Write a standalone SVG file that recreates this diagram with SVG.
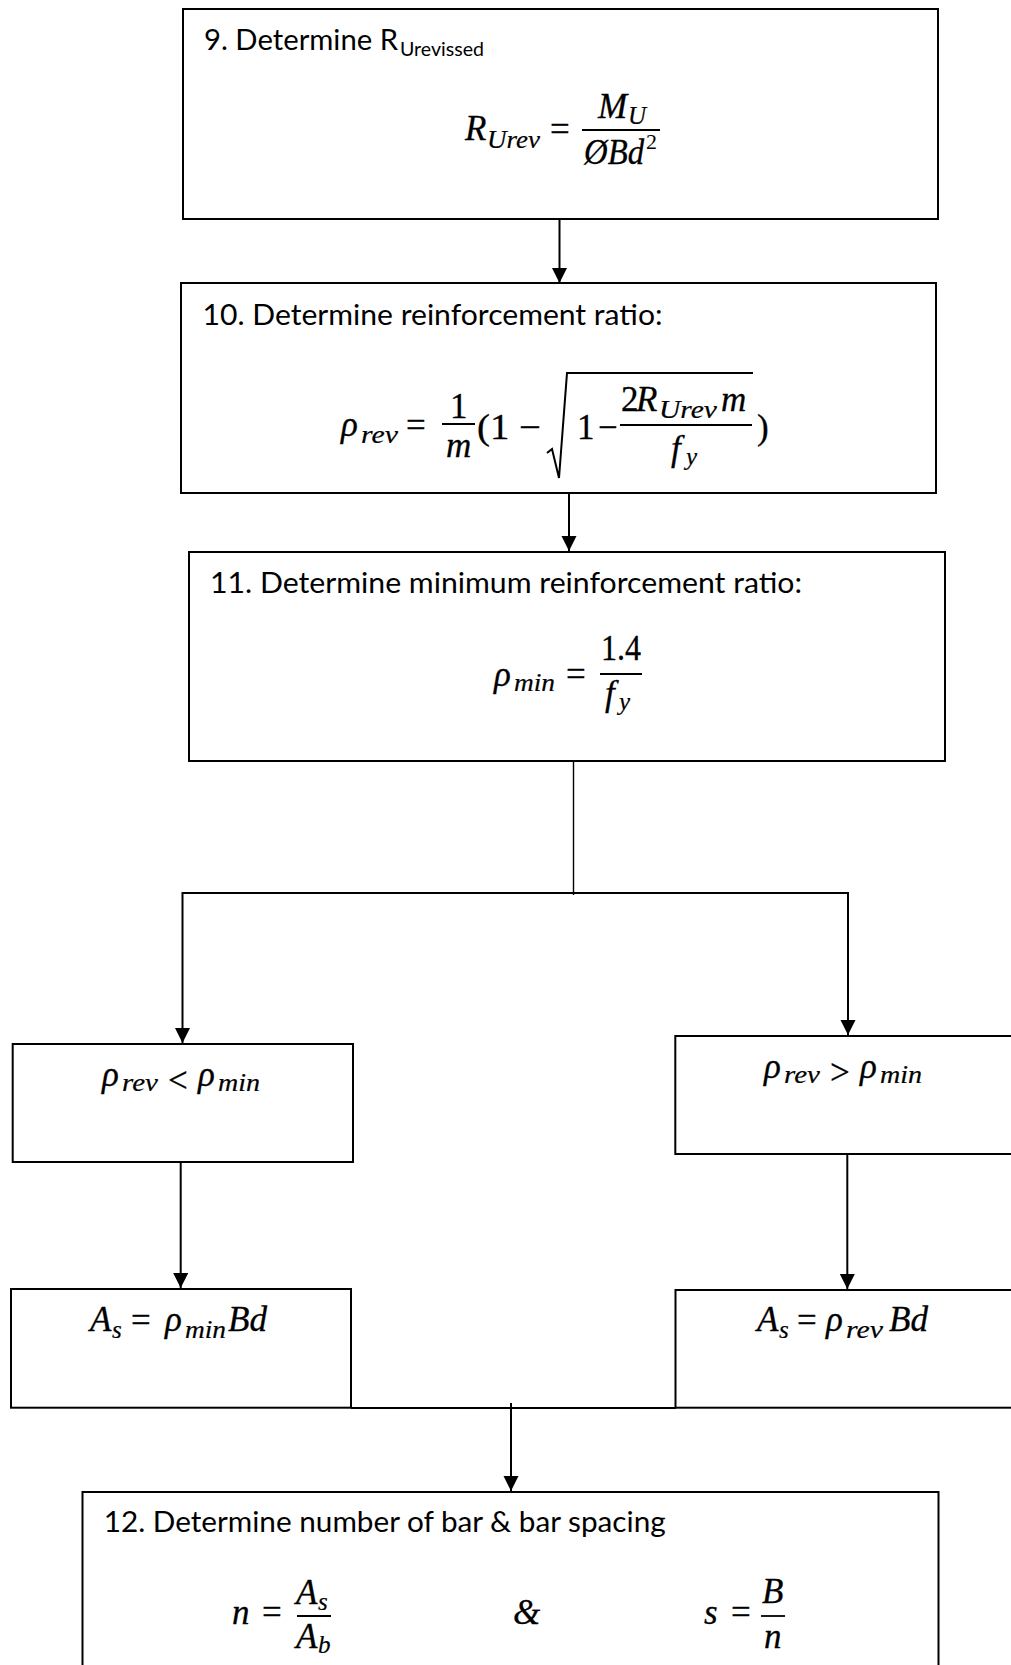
<svg xmlns="http://www.w3.org/2000/svg" width="1011" height="1665" viewBox="0 0 1011 1665">
<style>
  .box { fill: #ffffff; stroke: #000000; stroke-width: 2; }
  .h { font-family: Lato, "Liberation Sans", sans-serif; font-size: 29px; fill: #000; }
  .hs { font-family: Lato, "Liberation Sans", sans-serif; font-size: 19px; fill: #000; }
  .m { font-family: "Liberation Serif", "DejaVu Serif", serif; font-style: italic; font-size: 35px; fill: #000; stroke: #000; stroke-width: 0.3; }
  .ms { font-family: "Liberation Serif", "DejaVu Serif", serif; font-style: italic; font-size: 25px; fill: #000; stroke: #000; stroke-width: 0.2; }
  .mu { font-family: "Liberation Serif", "DejaVu Serif", serif; font-size: 35px; fill: #000; stroke: #000; stroke-width: 0.3; }
  .mus { font-family: "Liberation Serif", "DejaVu Serif", serif; font-size: 22px; fill: #000; }
  .bar { stroke: #000; stroke-width: 1.8; fill: none; }
  .conn { stroke: #000; stroke-width: 2; fill: none; }
  .thin { stroke: #000; stroke-width: 1.4; fill: none; }
</style>
<defs>
  <marker id="arrow" markerUnits="userSpaceOnUse" markerWidth="16" markerHeight="16" refX="15" refY="7.5" orient="auto">
    <path d="M0,0 L15,7.5 L0,15 Z" fill="#000"/>
  </marker>
</defs>
<rect width="1011" height="1665" fill="#ffffff"/>

<g id="connectors">
  <line class="conn" x1="559.5" y1="219" x2="559.5" y2="283" marker-end="url(#arrow)"/>
  <line class="conn" x1="569" y1="493" x2="569" y2="551" marker-end="url(#arrow)"/>
  <line class="thin" x1="573.5" y1="761" x2="573.5" y2="895"/>
  <line class="conn" x1="182.5" y1="893" x2="849" y2="893"/>
  <line class="conn" x1="182.5" y1="892" x2="182.5" y2="1043" marker-end="url(#arrow)"/>
  <line class="conn" x1="848" y1="892" x2="848" y2="1035" marker-end="url(#arrow)"/>
  <line class="conn" x1="180.7" y1="1162" x2="180.7" y2="1288" marker-end="url(#arrow)"/>
  <line class="conn" x1="847.3" y1="1154" x2="847.3" y2="1289" marker-end="url(#arrow)"/>
  <line class="conn" x1="351" y1="1408" x2="676" y2="1408"/>
  <line class="conn" x1="511" y1="1403" x2="511" y2="1491" marker-end="url(#arrow)"/>
</g>

<g id="node9">
  <rect class="box" x="183" y="9" width="755" height="210"/>
  <text class="h" x="204" y="50" textLength="194" lengthAdjust="spacingAndGlyphs">9. Determine R</text>
  <text class="hs" x="400" y="56" textLength="84" lengthAdjust="spacingAndGlyphs">Urevissed</text>
  <text class="m" x="465" y="140">R</text>
  <text class="ms" x="487" y="148" textLength="53" lengthAdjust="spacingAndGlyphs">Urev</text>
  <text class="mu" x="550" y="141">=</text>
  <line class="bar" x1="582" y1="130" x2="660" y2="130"/>
  <text class="m" x="598" y="118">M</text>
  <text class="ms" x="628" y="124">U</text>
  <text class="m" x="584" y="164" textLength="60" lengthAdjust="spacingAndGlyphs">ØBd</text>
  <text class="mus" x="646" y="149">2</text>
</g>

<g id="node10">
  <rect class="box" x="181" y="283" width="755" height="210"/>
  <text class="h" x="202.5" y="325" textLength="460" lengthAdjust="spacingAndGlyphs">10. Determine reinforcement ratio:</text>
  <text class="m" x="341" y="436">ρ</text>
  <text class="ms" x="361" y="443" textLength="37" lengthAdjust="spacingAndGlyphs">rev</text>
  <text class="mu" x="406" y="437">=</text>
  <text class="mu" x="450" y="418">1</text>
  <line class="bar" x1="442" y1="424" x2="475" y2="424"/>
  <text class="m" x="446" y="457">m</text>
  <text class="mu" x="477" y="439" textLength="64" lengthAdjust="spacingAndGlyphs">(1 −</text>
  <path class="conn" d="M547,453 L552,449 L559,478 L567,373 L753,373" stroke-linejoin="miter"/>
  <text class="mu" x="577" y="439">1</text>
  <text class="mu" x="598" y="439">−</text>
  <line class="bar" x1="620" y1="425" x2="752" y2="425"/>
  <text class="mu" x="621" y="411">2</text>
  <text class="m" x="636" y="411">R</text>
  <text class="ms" x="659" y="418" textLength="58" lengthAdjust="spacingAndGlyphs">Urev</text>
  <text class="m" x="721" y="411">m</text>
  <text class="m" x="671" y="460">f</text>
  <text class="ms" x="686" y="465">y</text>
  <text class="mu" x="757" y="439">)</text>
</g>

<g id="node11">
  <rect class="box" x="189" y="552" width="756" height="209"/>
  <text class="h" x="210" y="593" textLength="592" lengthAdjust="spacingAndGlyphs">11. Determine minimum reinforcement ratio:</text>
  <text class="m" x="494" y="686">ρ</text>
  <text class="ms" x="514" y="691" textLength="41" lengthAdjust="spacingAndGlyphs">min</text>
  <text class="mu" x="566" y="686">=</text>
  <line class="bar" x1="600" y1="674" x2="642" y2="674"/>
  <text class="mu" x="601" y="660" textLength="40" lengthAdjust="spacingAndGlyphs">1.4</text>
  <text class="m" x="605" y="705">f</text>
  <text class="ms" x="619" y="710">y</text>
</g>

<g id="nodeL1">
  <rect class="box" x="12.7" y="1044" width="340.3" height="118"/>
  <text class="m" x="102" y="1086">ρ</text>
  <text class="ms" x="122" y="1091" textLength="36" lengthAdjust="spacingAndGlyphs">rev</text>
  <text class="mu" x="168" y="1092">&lt;</text>
  <text class="m" x="198" y="1086">ρ</text>
  <text class="ms" x="218" y="1091" textLength="42" lengthAdjust="spacingAndGlyphs">min</text>
</g>

<g id="nodeR1">
  <rect class="box" x="675.3" y="1036" width="345" height="118"/>
  <text class="m" x="764" y="1078">ρ</text>
  <text class="ms" x="784" y="1083" textLength="36" lengthAdjust="spacingAndGlyphs">rev</text>
  <text class="mu" x="830" y="1084">&gt;</text>
  <text class="m" x="860" y="1078">ρ</text>
  <text class="ms" x="880" y="1083" textLength="42" lengthAdjust="spacingAndGlyphs">min</text>
</g>

<g id="nodeL2">
  <rect class="box" x="11" y="1289" width="340" height="118.7"/>
  <text class="m" x="90" y="1331">A</text>
  <text class="ms" x="112" y="1338">s</text>
  <text class="mu" x="131" y="1332">=</text>
  <text class="m" x="165" y="1331">ρ</text>
  <text class="ms" x="185" y="1338" textLength="41" lengthAdjust="spacingAndGlyphs">min</text>
  <text class="m" x="228" y="1331" textLength="39" lengthAdjust="spacingAndGlyphs">Bd</text>
</g>

<g id="nodeR2">
  <rect class="box" x="675.5" y="1290" width="345" height="117.7"/>
  <text class="m" x="757" y="1331">A</text>
  <text class="ms" x="779" y="1338">s</text>
  <text class="mu" x="797" y="1332">=</text>
  <text class="m" x="826" y="1331">ρ</text>
  <text class="ms" x="846" y="1338" textLength="37" lengthAdjust="spacingAndGlyphs">rev</text>
  <text class="m" x="889" y="1331" textLength="39" lengthAdjust="spacingAndGlyphs">Bd</text>
</g>

<g id="node12">
  <rect class="box" x="82.5" y="1492" width="856" height="200"/>
  <text class="h" x="103.7" y="1532" textLength="562" lengthAdjust="spacingAndGlyphs">12. Determine number of bar &amp; bar spacing</text>
  <text class="m" x="232" y="1624">n</text>
  <text class="mu" x="262" y="1624">=</text>
  <line class="bar" x1="297" y1="1616" x2="331" y2="1616"/>
  <text class="m" x="296" y="1604">A</text>
  <text class="ms" x="318" y="1610">s</text>
  <text class="m" x="296" y="1648">A</text>
  <text class="ms" x="318" y="1653">b</text>
  <text class="m" x="513" y="1624">&amp;</text>
  <text class="m" x="704" y="1624">s</text>
  <text class="mu" x="731" y="1624">=</text>
  <line class="bar" x1="761" y1="1616" x2="785" y2="1616"/>
  <text class="m" x="762" y="1603">B</text>
  <text class="m" x="764" y="1648">n</text>
</g>
</svg>
